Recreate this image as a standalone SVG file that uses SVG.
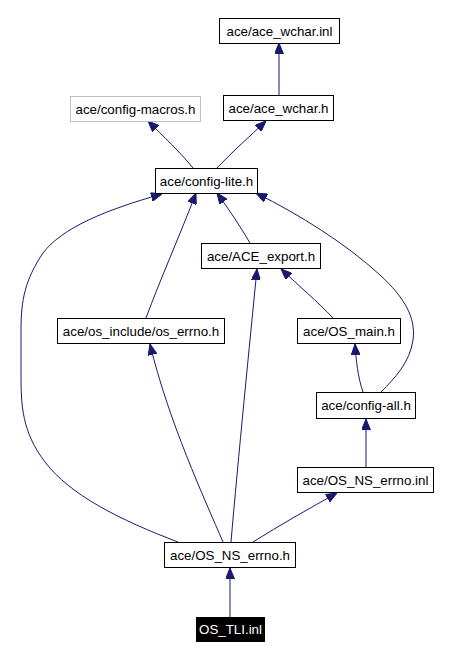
<svg xmlns="http://www.w3.org/2000/svg" width="456" height="659" viewBox="0 0 456 659">
<style>
.n rect{fill:#fff;stroke:#000;stroke-width:1}
.n text{font-family:"Liberation Sans",Arial,sans-serif;font-size:13.33px;text-anchor:middle;fill:#000}
.g rect{stroke:#bfbfbf}
.h rect{fill:#000}
.h text{fill:#fff}
.e path{fill:none;stroke:#191970;stroke-width:1;marker-end:url(#a)}
</style>
<defs>
<marker id="a" viewBox="0 0 11 9" refX="11" refY="4.5" markerWidth="11" markerHeight="9" markerUnits="userSpaceOnUse" orient="auto"><path d="M0,0 L11,4.5 L0,9 z" fill="#191970" stroke="#191970"/></marker>
</defs>
<rect width="456" height="659" fill="#fff"/>
<g id="edges" class="e">
<path d="M279,95 L279,43"/>
<path d="M193,168 C180,152 163,136 148,121"/>
<path d="M217,168 C232,152 250,136 266,121"/>
<path d="M146,318 C160,280 180,235 196,193"/>
<path d="M250,243 C240,226 228,208 217,193"/>
<path d="M178,542 C120,520 70,495 45,462 C22,432 21,405 21,375 L21,330 C21,300 25,280 43,253 C62,228 105,210 162,194"/>
<path d="M223,542 C205,500 168,420 150,344"/>
<path d="M231,542 C238,460 250,340 257,269"/>
<path d="M253,542 C280,525 310,508 337,493"/>
<path d="M333,318 C318,302 298,285 281,269"/>
<path d="M366,467 L366,419"/>
<path d="M363,392 C358,378 356,360 355,344"/>
<path d="M381,392 C395,378 410,362 413,340 C416,318 405,298 380,275 C345,243 300,215 256,193"/>
<path d="M230,617 L230,568"/>
</g>
<g id="ace_wchar_inl" class="n"><rect x="219.5" y="18.5" width="120" height="25"/><text x="279.5" y="35.5">ace/ace_wchar.inl</text></g>
<g id="ace_wchar_h" class="n"><rect x="223.5" y="95.5" width="110" height="25"/><text x="278.5" y="112.5">ace/ace_wchar.h</text></g>
<g id="config_macros" class="n g"><rect x="70.5" y="96.5" width="130" height="25"/><text x="135.5" y="113.5">ace/config-macros.h</text></g>
<g id="config_lite" class="n"><rect x="155.5" y="168.5" width="102" height="25"/><text x="206.5" y="185.5">ace/config-lite.h</text></g>
<g id="ace_export" class="n"><rect x="201.5" y="243.5" width="119" height="25"/><text x="261" y="260.5">ace/ACE_export.h</text></g>
<g id="os_errno" class="n"><rect x="57.5" y="318.5" width="167" height="25"/><text x="141" y="335.5">ace/os_include/os_errno.h</text></g>
<g id="os_main" class="n"><rect x="297.5" y="318.5" width="103" height="25"/><text x="349" y="335.5">ace/OS_main.h</text></g>
<g id="config_all" class="n"><rect x="316.5" y="392.5" width="99" height="26"/><text x="366" y="410">ace/config-all.h</text></g>
<g id="os_ns_errno_inl" class="n"><rect x="297.5" y="467.5" width="136" height="25"/><text x="365.5" y="484.5">ace/OS_NS_errno.inl</text></g>
<g id="os_ns_errno_h" class="n"><rect x="164.5" y="542.5" width="131" height="25"/><text x="230" y="559.5">ace/OS_NS_errno.h</text></g>
<g id="os_tli_inl" class="n h"><rect x="196.5" y="617.5" width="68" height="24"/><text x="230.5" y="634">OS_TLI.inl</text></g>
</svg>
